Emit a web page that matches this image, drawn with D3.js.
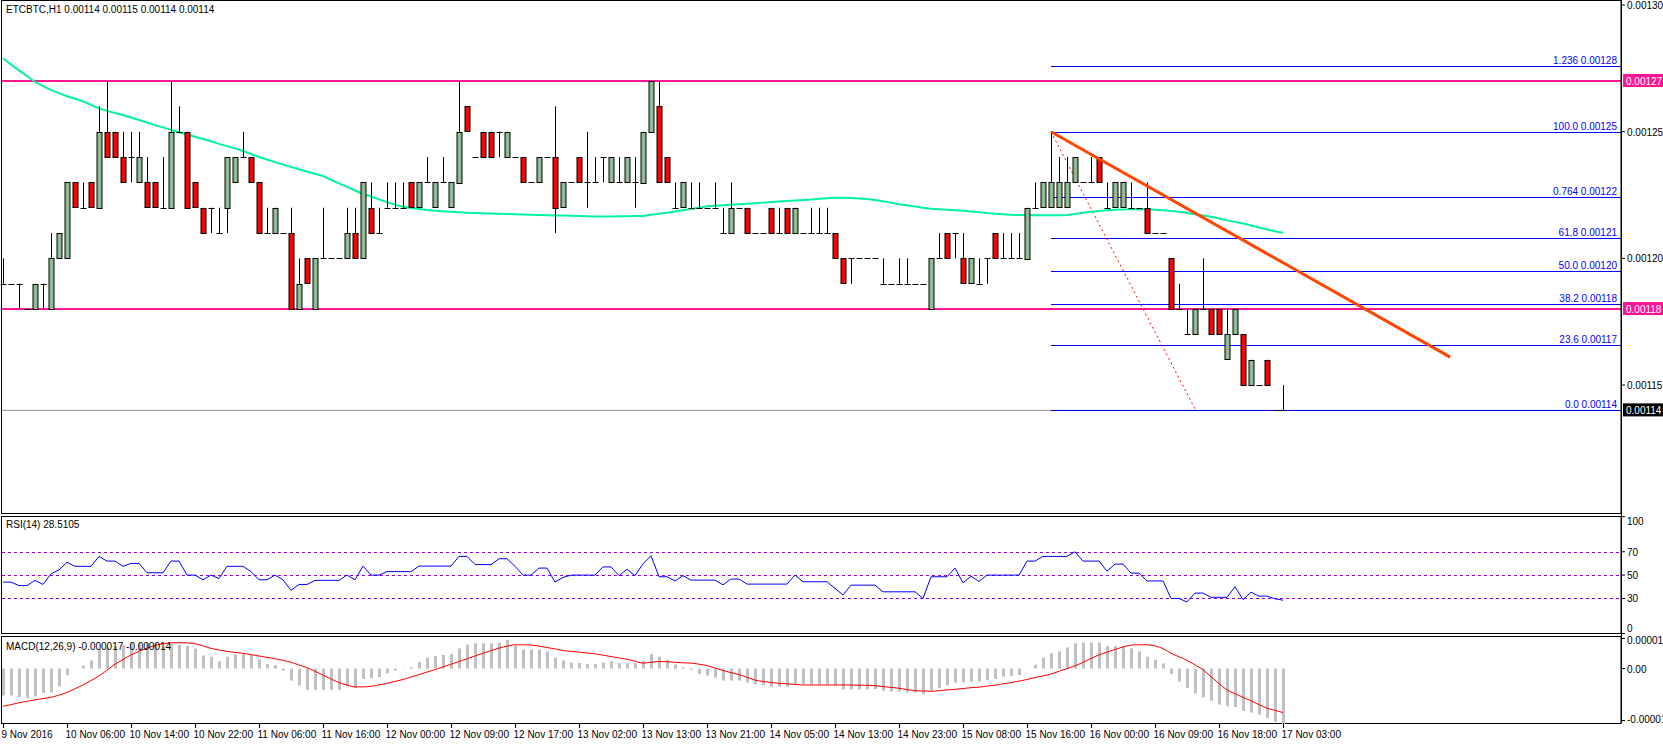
<!DOCTYPE html>
<html>
<head>
<meta charset="utf-8">
<title>ETCBTC,H1</title>
<script src="https://cdn.jsdelivr.net/npm/d3@7/dist/d3.min.js"></script>
<style>
body { margin: 0; background: #fff; }
svg { display: block; font-family: "Liberation Sans", Arial, sans-serif; }
text { font-size: 10px; }
</style>
</head>
<body>
<script>
// prices in units of 0.00001 BTC
var open  = [119,119,119,118,118,119,118,120,120,123, 122,123,122,125,125,124,124,123,123,123, 122,122,125,125,123,122,122,121,122,123,
             124,124,123,121,121,121,121,118,120,118, 120,120,120,120,121,120,122,121,122,122, 122,123,122,123,122,123,122,123,126,124,
             125,125,125,124,124,124,123,123,124,124, 122,123,124,123,123,124,123,123,123,123, 123,125,126,124,122,122,122,122,122,122,
             121,121,122,122,121,121,122,121,122,121, 121,121,121,121,121,120,120,120,120,120, 119,119,119,119,119,119,118,120,121,121,
             120,119,119,120,121,120,120,120,120,122, 122,122,122,122,123,123,123,124,122,122, 122,122,122,122,121,121,120,118,117,117,
             118,118,118,116,117,117,115,115,116,114, 114];
var high  = [120,119,119,118,119,119,121,121,123,123, 123,123,126,127,125,125,125,125,124,123, 124,127,126,125,123,122,122,122,124,124,
             125,124,123,122,122,121,122,120,120,120, 122,120,120,122,122,123,123,122,123,123, 123,123,123,124,123,124,123,127,126,124,
             125,125,125,125,124,124,123,124,124,126, 123,123,124,125,124,124,124,124,124,124, 125,127,127,124,123,123,123,123,122,123,
             122,123,122,122,121,121,122,122,122,122, 121,122,122,122,121,120,120,120,120,120, 120,119,120,120,119,119,120,121,121,121,
             121,120,120,120,121,121,121,121,122,123, 123,125,124,124,124,123,124,124,123,123, 123,123,122,123,121,121,120,119,118,118,
             120,118,118,118,118,117,116,115,116,114, 115];
var low   = [119,119,118,118,118,118,118,120,120,122, 122,122,122,124,124,123,123,123,122,122, 122,122,125,122,122,121,121,121,121,123,
             124,123,121,121,121,121,118,118,119,118, 120,120,120,120,120,120,121,121,122,122, 122,122,122,123,122,123,122,123,125,124,
             124,124,124,124,124,123,123,123,124,121, 122,123,123,122,123,123,123,123,123,122, 123,125,123,123,122,122,122,122,122,122,
             121,121,122,121,121,121,121,121,121,121, 121,121,121,121,120,119,119,120,120,120, 119,119,119,119,119,119,118,120,120,120,
             119,119,119,119,120,120,120,120,120,122, 122,122,122,122,123,123,123,123,122,122, 122,122,122,121,121,121,118,118,117,117,
             118,117,117,116,117,115,115,115,115,114, 114];
var close = [119,119,119,118,119,119,120,121,123,122, 122,122,125,124,124,123,124,124,122,122, 122,125,125,122,122,121,122,121,124,124,
             124,123,121,121,122,121,118,119,119,120, 120,120,120,121,120,123,121,121,122,122, 122,122,123,123,123,123,123,125,125,124,
             124,124,125,125,124,123,123,124,124,122, 123,123,123,123,123,124,124,123,124,123, 125,127,123,123,122,123,122,122,122,122,
             121,122,122,121,121,121,121,121,121,122, 121,121,121,121,120,119,120,120,120,120, 119,119,119,119,119,119,120,120,120,121,
             119,120,119,120,120,120,120,120,122,122, 123,123,123,123,124,123,123,123,122,123, 123,122,122,121,121,121,118,118,117,118,
             118,117,117,117,118,115,116,115,115,114, 114];
var ma    = [127.9,127.65,127.42,127.2,126.96,126.8,126.65,126.52,126.4,126.3, 126.2,126.06,125.92,125.82,125.74,125.66,125.56,125.46,125.36,125.26,
             125.17,125.07,124.98,124.89,124.8,124.71,124.62,124.52,124.43,124.34, 124.24,124.12,124.0,123.9,123.8,123.7,123.61,123.52,123.43,123.34,
             123.25,123.1,122.96,122.82,122.68,122.54,122.44,122.33,122.22,122.12, 122.04,121.99,121.95,121.91,121.88,121.86,121.84,121.82,121.8,121.79,
             121.78,121.77,121.76,121.75,121.74,121.73,121.72,121.71,121.7,121.69, 121.69,121.68,121.67,121.66,121.65,121.65,121.65,121.66,121.66,121.67,
             121.67,121.72,121.76,121.8,121.85,121.9,121.95,122.0,122.06,122.08, 122.1,122.12,122.14,122.16,122.18,122.2,122.22,122.24,122.26,122.28,
             122.3,122.32,122.35,122.37,122.39,122.39,122.38,122.36,122.34,122.3, 122.25,122.2,122.14,122.1,122.05,122.0,121.96,121.94,121.92,121.9,
             121.88,121.85,121.82,121.79,121.76,121.74,121.72,121.71,121.7,121.7, 121.7,121.7,121.7,121.71,121.75,121.8,121.84,121.87,121.9,121.92,
             121.93,121.94,121.94,121.94,121.92,121.9,121.87,121.84,121.79,121.74, 121.69,121.64,121.57,121.5,121.44,121.38,121.3,121.22,121.14,121.07,121.01];
var rsi   = [44,44,41,41,45.5,42,51,54.5,61,57.5, 57.5,57.5,66,62,62,57.5,60,60,52,52, 52,62,62,50,50,46,50,47,57.5,57.5,
             57.5,53,46,46,50,46,37,42,42,45.5, 45.5,45.5,45.5,50,46,57.7,50,50,53,53, 53,53,57.7,57.7,57.7,57.7,57.7,66,66,59,
             59,59,64,64,57.5,50,50,56,56,44, 48,50,50,50,50,57,57,49.5,55,49.5, 59.7,66.6,48.6,48.6,45,49.5,45.7,45.7,45.7,45.7,
             41.7,46.6,46.6,42.3,42.3,42.3,42.3,42.3,42.3,50, 44.3,44.3,44.3,44.3,38.6,33,41.4,41.4,41.4,41.4, 35.7,35.7,35.7,35.7,35.7,30,48.6,48.6,48.6,56,
             43.4,49,44.6,50,50,50,50,50,62,62, 66,66,66,66,70,62,62,62,53.4,59.4, 59.4,51.7,51.7,45,45,45,30,30,27,34.6,
             34.6,31,31,31,40,29,35.4,32,32,29.7,28.5105];
// MACD histogram and signal, units of 0.000001
var macd  = [-9.8,-9.8,-10.5,-10.8,-10.2,-8.9,-8.7,-6.5,-2.4,0, 1,3,7,7.7,8.3,8.7,9.3,9.3,9.4,9.3, 8,9.1,8.6,8.3,7.3,4.8,4.3,2.6,4.3,5.2,
             5.4,5,3.4,1.6,1.2,-0.7,-4.4,-6.2,-7.8,-7.8, -7.8,-7.8,-7.8,-6.5,-7.1,-3.8,-3.5,-3.1,-1.7,-0.7, -0.1,0.5,2.4,4,4.6,5,5.4,7.4,8.7,9.3,
             9.3,9.3,9.5,10.5,8.3,7,7,7,6.3,4, 3,2.2,2,1.7,1.6,2.2,2.7,2,2,2, 2.7,5.4,4.4,3.2,1.5,0.4,-0.5,-2,-2.6,-3.3,
             -4.4,-4.4,-4.4,-5.1,-5.7,-6.1,-6.6,-6.6,-6.6,-5.6, -5.6,-5.8,-5.8,-5.8,-6.1,-7.6,-7.6,-7.6,-7.6,-7.5, -8.1,-8.4,-8.4,-8.8,-8.8,-9.4,-8,-7.2,-6.1,-5.1,
             -5.1,-4.8,-4.8,-4.2,-3.8,-3,-2.7,-2.4,0,1.4, 4,5.6,6.3,7.7,9.3,9.5,9.5,9.5,8.3,8.3, 8.3,7.4,6.3,4.3,3.2,1.9,-2,-4.8,-7.1,-9.1,
             -10.5,-11.8,-13.2,-13.8,-14.1,-15.5,-16.1,-16.8,-18.1,-19.5,-20.3];
var signal = [-13.8,-13.2,-12.5,-12,-11.4,-11,-10.5,-9.7,-8.7,-7.4, -6,-4.4,-2.7,-0.6,1.6,3.3,5,6.3,7.5,8.4, 9.1,9.4,9.5,9.4,9.1,8.3,7.4,6.8,6.3,5.9,
             5.6,5.1,4.6,4.1,3.6,3,2.3,1.3,0.3,-1, -2.4,-3.8,-5.1,-6,-6.7,-6.7,-6.5,-6,-5.4,-4.7, -4,-3.1,-2.2,-1.3,-0.4,0.6,1.6,2.6,3.6,4.6,
             5.6,6.6,7.5,8.2,8.7,8.7,8.6,8.2,7.7,7.2, 6.6,6.3,6,5.7,5.4,4.9,4.4,3.9,3.4,2.7, 2,2.3,2.6,2.5,2.3,2.1,2,1.6,1.1,0.2,
             -0.7,-1.5,-2.2,-3.2,-4.2,-4.7,-5.1,-5.4,-5.6,-5.8, -6,-6,-6,-6,-6,-6,-6,-6.1,-6.1,-6.3, -6.6,-6.9,-7.2,-7.7,-8.1,-8.2,-8.3,-8.1,-7.8,-7.6,
             -7.3,-7,-6.8,-6.4,-6.1,-5.6,-5.1,-4.6,-4,-3.3, -2.7,-2,-1,0,1,2.3,3.7,5,6,7, 7.9,8.6,8.7,8.7,8.3,7.3,5.6,4.3,3,1.3,
             -0.4,-3,-5.5,-7.8,-9.2,-10.5,-11.8,-13.2,-14.5,-15.3,-16.1];
var timeLabels = ["9 Nov 2016","10 Nov 06:00","10 Nov 14:00","10 Nov 22:00","11 Nov 06:00","11 Nov 16:00","12 Nov 00:00",
  "12 Nov 09:00","12 Nov 17:00","13 Nov 02:00","13 Nov 13:00","13 Nov 21:00","14 Nov 05:00","14 Nov 13:00","14 Nov 23:00",
  "15 Nov 08:00","15 Nov 16:00","16 Nov 00:00","16 Nov 09:00","16 Nov 18:00","17 Nov 03:00"];
var priceTicks = [130, 125, 120, 115];
var levels = [127, 118];                       // horizontal support / resistance
var fibRatios = [1.236, 1.0, 0.764, 0.618, 0.5, 0.382, 0.236, 0.0];
var fibNames  = ["1.236", "100.0", "0.764", "61.8", "50.0", "38.2", "23.6", "0.0"];
var fibHigh = 125, fibLow = 114, fibFrom = 131, fibTo = 149.1;
var trend = [[131, 125], [180.9, 116.1]];
var rsiLevels = [70, 50, 30], rsiTicks = [100, 70, 50, 30, 0];

var W = 1663, H = 744, right = 1621;
var svg = d3.select("body").append("svg").attr("width", W).attr("height", H);
var x = d3.scaleLinear().domain([0, 160]).range([3, 1283]);
var y = d3.scaleLinear().domain([130, 109.95]).range([5, 513]);
var yr = d3.scaleLinear().domain([0, 100]).range([633.5, 516.7]);
var ym = d3.scaleLinear().domain([-19, 11]).range([720.5, 638.5]);
var fmt = function(p) { return (p / 100000).toFixed(5); };

var main = svg.append("g");
// panel frames
[[0, 513], [516, 633], [636, 723]].forEach(function(p) {
  svg.append("rect").attr("x", 1.5).attr("y", p[0] + 0.5).attr("width", right - 1.5).attr("height", p[1] - p[0])
    .attr("fill", "none").attr("stroke", "#000");
});

// levels
levels.forEach(function(l) {
  main.append("line").attr("x1", 2).attr("x2", right).attr("y1", y(l)).attr("y2", y(l))
    .attr("stroke", "#ff1493").attr("stroke-width", 2);
});
main.append("line").attr("x1", 2).attr("x2", right).attr("y1", y(close[160])).attr("y2", y(close[160]))
  .attr("stroke", "#8c8c8c").attr("stroke-width", 1);

// fibonacci
fibRatios.forEach(function(r, k) {
  var p = fibLow + (fibHigh - fibLow) * r, yy = Math.round(y(p)) + 0.5;
  main.append("line").attr("x1", x(fibFrom)).attr("x2", right).attr("y1", yy).attr("y2", yy)
    .attr("stroke", "#0000ff").attr("stroke-width", 1);
  main.append("text").attr("x", right - 4).attr("y", yy - 3).attr("text-anchor", "end").attr("fill", "#0000ff")
    .text(fibNames[k] + "  " + fmt(p));
});
main.append("line").attr("x1", x(fibFrom)).attr("y1", y(fibHigh)).attr("x2", x(fibTo)).attr("y2", y(fibLow))
  .attr("stroke", "#ff0000").attr("stroke-dasharray", "2,3");

// moving average
main.append("path").datum(ma).attr("fill", "none").attr("stroke", "#00f59a").attr("stroke-width", 2)
  .attr("d", d3.line().x(function(d, i) { return x(i); }).y(function(d) { return y(d); }));

// candles
var c = main.selectAll("g.c").data(d3.range(open.length)).enter().append("g");
c.append("line").attr("x1", function(i) { return Math.round(x(i)) + 0.5; }).attr("x2", function(i) { return Math.round(x(i)) + 0.5; })
  .attr("y1", function(i) { return y(high[i]); }).attr("y2", function(i) { return y(low[i]); }).attr("stroke", "#000");
c.each(function(i) {
  var g = d3.select(this), xc = Math.round(x(i)) + 0.5;
  if (open[i] === close[i]) {
    g.append("line").attr("x1", xc - 3).attr("x2", xc + 3).attr("y1", Math.round(y(open[i])) + 0.5).attr("y2", Math.round(y(open[i])) + 0.5).attr("stroke", "#000");
  } else {
    var top = y(Math.max(open[i], close[i])), bot = y(Math.min(open[i], close[i]));
    g.append("rect").attr("x", xc - 2.5).attr("y", Math.round(top) + 0.5).attr("width", 5).attr("height", Math.round(bot - top))
      .attr("fill", close[i] > open[i] ? "#8fbc8f" : "#ff0000").attr("stroke", "#000");
  }
});

// trend line
main.append("line").attr("x1", x(trend[0][0])).attr("y1", y(trend[0][1])).attr("x2", x(trend[1][0])).attr("y2", y(trend[1][1]))
  .attr("stroke", "#ff4500").attr("stroke-width", 3);

main.append("text").attr("x", 6).attr("y", 13).attr("fill", "#000")
  .text("ETCBTC,H1  " + [open[160], high[160], low[160], close[160]].map(fmt).join(" "));

// right price axis
svg.append("line").attr("x1", right + 0.5).attr("x2", right + 0.5).attr("y1", 0).attr("y2", 723).attr("stroke", "#000");
priceTicks.forEach(function(p) {
  svg.append("line").attr("x1", right).attr("x2", right + 4).attr("y1", y(p)).attr("y2", y(p)).attr("stroke", "#000");
  svg.append("text").attr("x", right + 6).attr("y", y(p) + 4).text(fmt(p));
});
levels.forEach(function(l) {
  svg.append("rect").attr("x", right + 2).attr("y", y(l) - 7).attr("width", 40).attr("height", 13).attr("fill", "#ff1493");
  svg.append("text").attr("x", right + 5).attr("y", y(l) + 3.5).attr("fill", "#fff").text(fmt(l));
});
svg.append("rect").attr("x", right + 2).attr("y", y(close[160]) - 7).attr("width", 40).attr("height", 13).attr("fill", "#000");
svg.append("text").attr("x", right + 5).attr("y", y(close[160]) + 3.5).attr("fill", "#fff").text(fmt(close[160]));

// RSI
var rs = svg.append("g");
rsiLevels.forEach(function(l) {
  rs.append("line").attr("x1", 2).attr("x2", right).attr("y1", Math.round(yr(l)) + 0.5).attr("y2", Math.round(yr(l)) + 0.5)
    .attr("stroke", "#9400d3").attr("stroke-dasharray", "3,3");
});
rs.append("path").datum(rsi).attr("fill", "none").attr("stroke", "#0000ff").attr("stroke-width", 1)
  .attr("d", d3.line().x(function(d, i) { return x(i); }).y(function(d) { return yr(d); }));
rsiTicks.forEach(function(t) {
  rs.append("line").attr("x1", right).attr("x2", right + 4).attr("y1", yr(t)).attr("y2", yr(t)).attr("stroke", "#000");
  rs.append("text").attr("x", right + 6).attr("y", t === 100 ? yr(t) + 8 : (t === 0 ? yr(t) - 2 : yr(t) + 4)).text(t);
});
rs.append("text").attr("x", 6).attr("y", 528).text("RSI(14) " + rsi[160].toFixed(4));

// MACD
var mg = svg.append("g");
mg.selectAll("rect").data(macd).enter().append("rect")
  .attr("x", function(d, i) { return Math.round(x(i)) - 1; }).attr("width", 3)
  .attr("y", function(d) { return Math.min(ym(d), ym(0)); })
  .attr("height", function(d) { return Math.abs(ym(d) - ym(0)); }).attr("fill", "#c0c0c0");
mg.append("path").datum(signal).attr("fill", "none").attr("stroke", "#ff0000").attr("stroke-width", 1)
  .attr("d", d3.line().curve(d3.curveMonotoneX).x(function(d, i) { return x(i); }).y(function(d) { return ym(d); }));
[[11, "0.000011", 5], [0, "0.00", 4], [-19, "-0.000019", 2]].forEach(function(t) {
  mg.append("line").attr("x1", right).attr("x2", right + 4).attr("y1", ym(t[0])).attr("y2", ym(t[0])).attr("stroke", "#000");
  mg.append("text").attr("x", right + 6).attr("y", ym(t[0]) + t[2]).text(t[1]);
});
mg.append("text").attr("x", 6).attr("y", 650).text("MACD(12,26,9) -0.000017 -0.000014");

// time axis, one label per 8 bars
timeLabels.forEach(function(t, k) {
  var xx = Math.round(x(k * 8)) + 0.5;
  svg.append("line").attr("x1", xx).attr("x2", xx).attr("y1", 723).attr("y2", 728).attr("stroke", "#000");
  svg.append("text").attr("x", xx - 2).attr("y", 738).text(t);
});
</script>
</body>
</html>
